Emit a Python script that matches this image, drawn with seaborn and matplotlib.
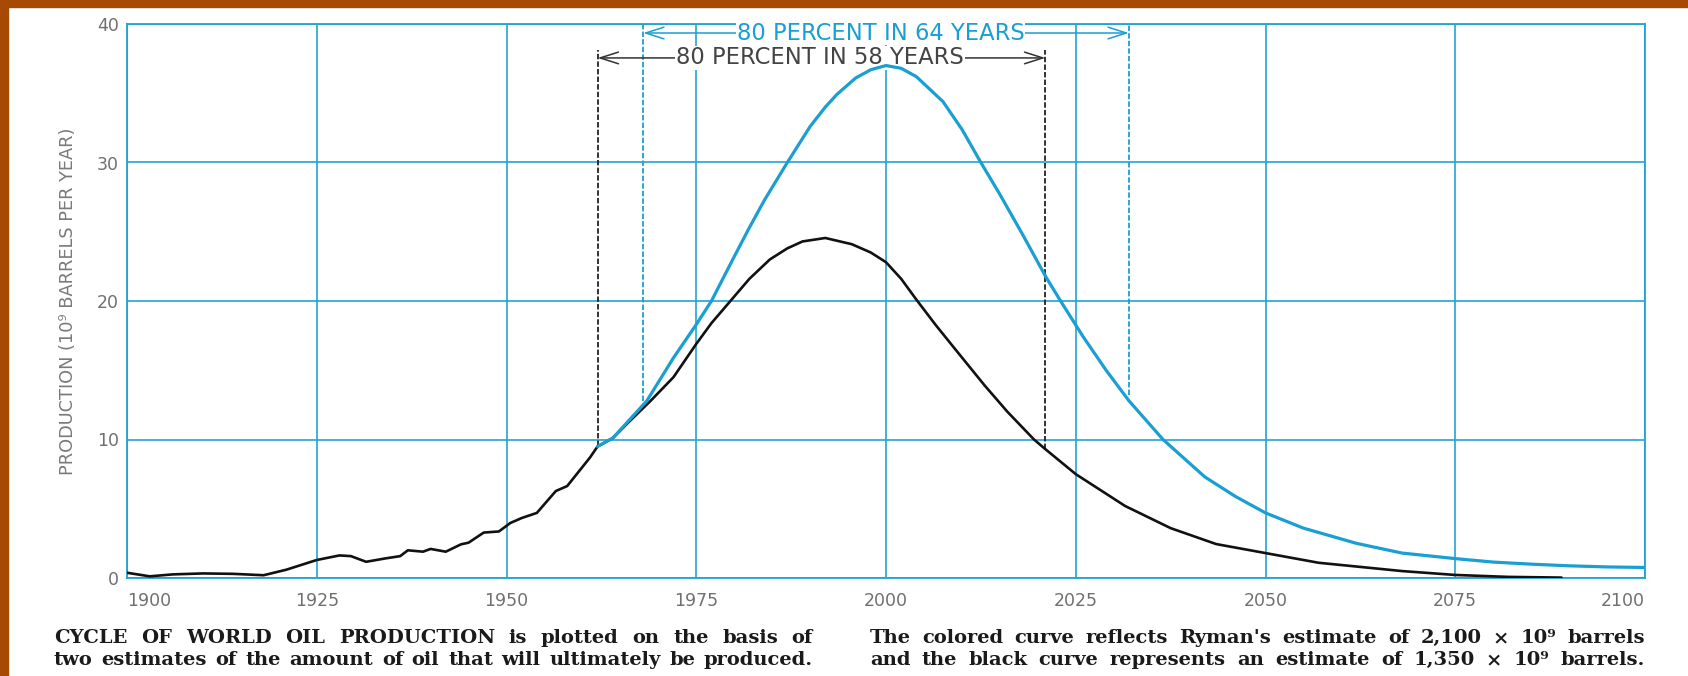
import numpy as np
import pandas as pd
import matplotlib
matplotlib.use("Agg")
import matplotlib.pyplot as plt
from matplotlib.patches import Rectangle
import seaborn as sb

# historical world production (black curve up to 1962)
hist_years = [1900, 1903, 1906, 1910, 1914, 1918, 1921, 1925, 1928, 1929.5, 1931.5,
              1934, 1936, 1937, 1939, 1940, 1942, 1944, 1945, 1947, 1949, 1950.5,
              1952, 1954, 1956.5, 1958, 1961, 1962]
hist_prod = [0.38, 0.12, 0.26, 0.33, 0.3, 0.2, 0.6, 1.3, 1.63, 1.58, 1.17,
             1.41, 1.58, 2.0, 1.9, 2.1, 1.9, 2.43, 2.55, 3.28, 3.36, 3.97,
             4.33, 4.7, 6.28, 6.64, 8.7, 9.5]

# projection for 1,350 x 10^9 barrels (black)
black_years = [1962, 1964, 1966, 1969, 1972, 1975, 1977, 1979.5, 1982, 1984.7, 1987,
               1989, 1992, 1995.5, 1998, 2000, 2002, 2004, 2006.5, 2009, 2013,
               2016, 2019.5, 2021, 2025, 2031.5, 2037.5, 2043.5, 2050, 2057, 2068,
               2075, 2082, 2089]
black_prod = [9.5, 10.1, 11.2, 12.8, 14.5, 16.9, 18.4, 20.0, 21.6, 23.0, 23.8,
              24.3, 24.55, 24.1, 23.5, 22.8, 21.6, 20.1, 18.3, 16.6, 13.9,
              12.0, 10.0, 9.3, 7.5, 5.2, 3.6, 2.45, 1.8, 1.1, 0.5,
              0.22, 0.08, 0.03]

# projection for Ryman's 2,100 x 10^9 barrels (colored)
blue_years = [1962, 1964, 1966, 1968.5, 1972, 1975, 1977, 1980, 1982, 1984, 1987,
              1990, 1992, 1993.5, 1996, 1998, 2000, 2002, 2004, 2007.5, 2010, 2012.5, 2015,
              2018, 2021, 2023, 2026, 2029, 2032, 2036.5, 2042, 2046, 2050, 2055,
              2062, 2068, 2075, 2080, 2085, 2090, 2095, 2100]
blue_prod = [9.5, 10.1, 11.3, 12.8, 15.9, 18.3, 20.0, 23.2, 25.3, 27.3, 30.0,
             32.6, 34.0, 34.9, 36.1, 36.7, 37.0, 36.8, 36.2, 34.4, 32.4, 30.0, 27.7,
             24.8, 21.8, 20.0, 17.4, 15.0, 12.8, 10.0, 7.3, 5.9, 4.7, 3.6,
             2.5, 1.8, 1.4, 1.15, 1.0, 0.88, 0.8, 0.76]

x_ticks = [1900, 1925, 1950, 1975, 2000, 2025, 2050, 2075, 2100]
y_ticks = [0, 10, 20, 30, 40]

# 80 percent brackets
black_span = [1962, 2021]
black_span_bottoms = [9.5, 9.35]
black_span_top = 38.1
black_arrow_y = 37.55
black_label = "80 PERCENT IN 58 YEARS"
blue_span = [1968, 2032]
blue_span_bottoms = [12.8, 13.2]
blue_span_top = 40
blue_arrow_y = 39.35
blue_label = "80 PERCENT IN 64 YEARS"

caption_left = [["CYCLE", "OF", "WORLD", "OIL", "PRODUCTION", "is", "plotted", "on", "the", "basis", "of"],
                "two estimates of the amount of oil that will ultimately be produced.".split()]
caption_right = ["The colored curve reflects Ryman's estimate of 2,100 \u00d7 10\u2079 barrels".split(),
                 "and the black curve represents an estimate of 1,350 \u00d7 10\u2079 barrels.".split()]

BLUE = "#1a9fd2"
GRID = "#22a3d3"
GREY = "#707070"

sb.set_style("white")
plt.rcParams['font.family'] = ['DejaVu Sans']

hist = pd.DataFrame({"year": hist_years, "prod": hist_prod})
black = pd.DataFrame({"year": black_years, "prod": black_prod})
blue = pd.DataFrame({"year": blue_years, "prod": blue_prod})

W, H = 1688, 676
fig = plt.figure(figsize=(W / 100, H / 100), dpi=100)
fig.patch.set_facecolor("white")
# orange slide border, top and left
fig.patches.append(Rectangle((0, 1 - 7 / H), 1, 7 / H, transform=fig.transFigure,
                             color="#a64902", zorder=0))
fig.patches.append(Rectangle((0, 0), 8 / W, 1, transform=fig.transFigure,
                             color="#a64902", zorder=0))

ax = fig.add_axes([127 / W, 1 - 578 / H, 1518 / W, 554 / H])

sb.lineplot(data=blue, x="year", y="prod", ax=ax, color=BLUE, lw=2.3, errorbar=None, zorder=8)
sb.lineplot(data=hist, x="year", y="prod", ax=ax, color="#111111", lw=1.9, errorbar=None, zorder=5)
sb.lineplot(data=black, x="year", y="prod", ax=ax, color="#111111", lw=1.9, errorbar=None, zorder=5)

ax.set_xlim(1900, 2100)
ax.set_ylim(0, 40)
ax.set_xticks(x_ticks)
ax.set_yticks(y_ticks)
ax.grid(True, color=GRID, lw=1.2)
ax.set_axisbelow(True)
for s in ax.spines.values():
    s.set_color(GRID)
    s.set_linewidth(1.3)
ax.tick_params(axis="both", length=0, colors=GREY, labelsize=12.5)
ax.tick_params(axis="x", pad=10)
ax.tick_params(axis="y", pad=6)
xl = ax.get_xticklabels()
xl[0].set_ha("left")
xl[-1].set_ha("right")
ax.set_xlabel("")
ax.set_ylabel("PRODUCTION (10\u2079 BARRELS PER YEAR)", fontsize=12.8, color="#7a7a7a", labelpad=14)

# dashed bracket lines
for yr, b in zip(black_span, black_span_bottoms):
    ax.vlines(yr, b, black_span_top, colors="#222222", linestyles=(0, (3, 1.2)), lw=1.3, zorder=3)
for yr, b in zip(blue_span, blue_span_bottoms):
    ax.vlines(yr, b, blue_span_top, colors=BLUE, linestyles=(0, (3, 1.2)), lw=1.3, zorder=3)

ax.annotate("", xy=(blue_span[1], blue_arrow_y), xytext=(blue_span[0], blue_arrow_y),
            arrowprops=dict(arrowstyle="<->,head_length=1.1,head_width=0.35", color=BLUE,
                            lw=1.1, mutation_scale=12, shrinkA=0, shrinkB=0), zorder=6)
ax.text(1999.3, blue_arrow_y, blue_label, ha="center", va="center",
        color=BLUE, fontsize=16.3, zorder=7,
        bbox=dict(fc="white", ec="none", pad=0.6))
ax.annotate("", xy=(black_span[1], black_arrow_y), xytext=(black_span[0], black_arrow_y),
            arrowprops=dict(arrowstyle="<->,head_length=1.1,head_width=0.35", color="#333333",
                            lw=1.1, mutation_scale=12, shrinkA=0, shrinkB=0), zorder=6)
ax.text(1991.3, black_arrow_y, black_label, ha="center", va="center",
        color="#444444", fontsize=16.3, zorder=7,
        bbox=dict(fc="white", ec="none", pad=0.6))

# caption, justified between two edges like the printed page
cap = dict(fontsize=14, fontweight="bold", color="#1a1a1a", family="DejaVu Serif",
           va="center", ha="left")
renderer = fig.canvas.get_renderer()


def justify(words, x0, x1, y):
    texts = [fig.text(0, 1 - y / H, w, **cap) for w in words]
    widths = [t.get_window_extent(renderer).width for t in texts]
    gap = (x1 - x0 - sum(widths)) / (len(words) - 1)
    x = x0
    for t, w in zip(texts, widths):
        t.set_x(x / W)
        x += w + gap


for words, y in zip(caption_left, [638, 660]):
    justify(words, 54, 813, y)
for words, y in zip(caption_right, [638, 660]):
    justify(words, 870, 1645, y)

fig.savefig("out.png", dpi=100)
